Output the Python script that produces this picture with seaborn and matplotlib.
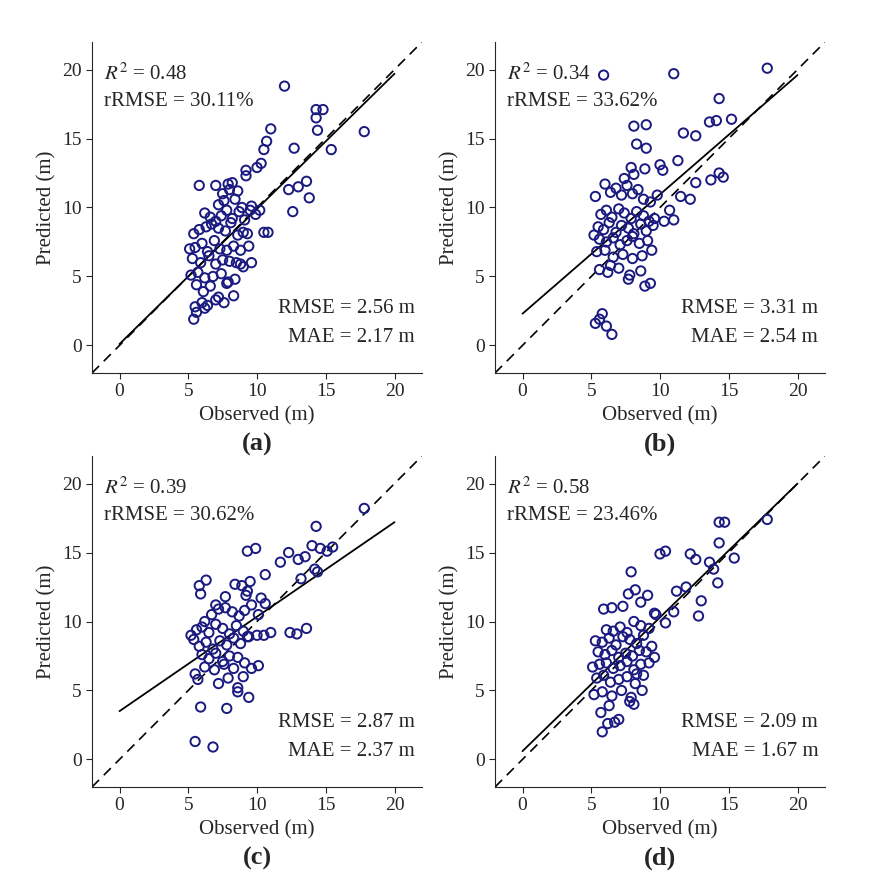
import numpy as np
import pandas as pd
import seaborn as sns
import matplotlib.pyplot as plt

# panel (a)
obs_a = [12.0, 14.3, 14.8, 14.3, 14.4, 17.8, 11.0, 10.7, 10.5, 12.7, 15.4, 10.3, 9.2, 12.3, 13.0, 13.6,
         13.8, 12.6, 10.0, 10.2, 10.5, 10.8, 5.8, 7.0, 7.5, 7.9, 8.0, 8.2, 8.6, 9.2, 7.2, 7.6, 8.4,
         8.9, 9.6, 9.9, 6.2, 6.6, 7.0, 7.4, 7.8, 8.2, 8.7, 9.1, 9.5, 5.4, 5.8, 6.3, 6.7, 7.2, 7.7,
         8.1, 8.6, 9.0, 9.4, 5.1, 5.5, 6.0, 6.4, 6.9, 7.3, 7.8, 8.3, 8.8, 5.3, 5.9, 6.5, 7.0,
         7.5, 8.0, 8.5, 5.2, 5.7, 6.2, 6.8, 7.4, 7.9, 8.4, 9.0, 5.6, 6.1, 6.6, 7.2, 7.8, 5.5,
         6.0, 6.4, 7.0, 7.6, 8.3, 5.6, 6.2, 5.4, 9.3, 9.6, 8.8]
pred_a = [18.8, 17.1, 17.1, 16.5, 15.6, 15.5, 15.7, 14.8, 14.2, 14.3, 14.2, 13.2, 12.7, 11.3, 11.5, 11.9,
          10.7, 9.7, 12.9, 9.8, 8.2, 8.2, 11.6, 11.6, 11.0, 11.7, 11.3, 11.8, 11.2, 12.3, 10.2, 10.5, 10.6,
          10.0, 10.1, 9.5, 9.6, 9.3, 9.0, 9.4, 9.8, 9.2, 9.7, 9.1, 9.8, 8.1, 8.4, 8.6, 8.8, 8.5, 8.3,
          8.9, 8.0, 8.2, 7.2, 7.0, 7.1, 7.4, 6.8, 7.6, 7.0, 6.9, 7.2, 6.9, 6.3, 6.0, 6.5, 5.9,
          6.2, 6.1, 6.0, 5.1, 5.3, 4.9, 5.0, 5.2, 4.6, 4.8, 5.7, 4.4, 3.9, 4.3, 3.5, 4.5, 2.8,
          3.1, 2.9, 3.3, 3.1, 3.6, 2.4, 2.7, 1.9, 8.1, 6.0, 5.9]

# panel (b)
obs_b = [5.9, 11.0, 17.8, 14.3, 13.6, 14.1, 15.2, 12.6, 11.7, 8.1, 9.0, 9.0, 8.3, 7.4, 10.0, 11.3,
         8.9, 7.9, 8.1, 10.2, 14.3, 13.7, 14.6, 12.6, 12.2, 11.5, 10.7, 5.3, 6.0, 6.4, 6.8, 7.2, 7.6,
         8.0, 8.4, 8.8, 9.3, 9.8, 5.7, 6.1, 6.5, 7.0, 7.4, 7.9, 8.3, 8.8, 9.2, 5.5, 5.9, 6.3, 6.8,
         7.2, 7.7, 8.1, 8.6, 9.0, 9.5, 5.2, 5.6, 6.1, 6.6, 7.1, 7.6, 8.0, 8.5, 9.1, 5.4, 6.0,
         6.6, 7.3, 8.0, 8.7, 9.4, 5.6, 6.2, 7.0, 7.8, 8.6, 9.3, 6.4, 7.7, 8.9, 5.8, 5.3, 6.1,
         5.6, 6.5, 9.6, 10.3, 11.0]
pred_b = [19.6, 19.7, 20.1, 17.9, 16.2, 16.3, 16.4, 15.2, 15.4, 15.9, 16.0, 14.3, 14.6, 12.1, 13.1, 13.4,
          12.8, 12.9, 12.4, 12.7, 12.5, 12.0, 12.2, 11.8, 10.6, 10.8, 9.8, 10.8, 11.7, 11.1, 11.4, 10.9, 11.6,
          11.0, 11.3, 10.6, 10.4, 10.9, 9.5, 9.8, 9.3, 9.9, 9.6, 9.2, 9.7, 9.4, 9.0, 8.6, 8.4, 8.9, 8.2,
          8.7, 8.5, 8.1, 8.8, 8.3, 8.7, 8.0, 7.7, 7.5, 7.8, 7.3, 7.6, 7.9, 7.4, 7.6, 6.8, 6.9,
          6.4, 6.6, 6.3, 6.5, 6.9, 5.5, 5.3, 5.6, 5.1, 5.4, 4.5, 5.8, 4.8, 4.3, 2.3, 1.6, 1.4,
          1.9, 0.8, 9.2, 9.0, 9.1]

# panel (c)
obs_c = [17.8, 14.3, 14.0, 14.6, 14.2, 15.1, 15.5, 12.3, 9.3, 9.9, 13.0, 13.5, 11.7, 10.6, 14.4, 13.2,
         12.9, 13.6, 5.8, 6.3, 8.9, 9.3, 9.5, 5.9, 7.0, 7.7, 8.4, 9.2, 10.3, 10.6, 6.2, 6.7, 7.2,
         7.7, 8.2, 8.7, 9.1, 9.6, 10.1, 5.2, 5.6, 6.0, 6.5, 7.0, 7.5, 8.0, 8.5, 9.0, 9.4, 10.0,
         5.4, 5.8, 6.3, 6.8, 7.3, 7.8, 8.3, 8.8, 9.3, 6.0, 6.5, 7.0, 7.5, 8.0, 8.6, 9.1, 5.5,
         6.2, 6.9, 7.6, 8.3, 9.0, 9.6, 7.2, 7.9, 8.6, 9.4, 10.1, 5.7, 7.8, 8.6, 5.9, 5.5, 6.8,
         10.5, 11.0, 12.4]
pred_c = [18.2, 16.9, 15.5, 15.3, 13.8, 15.1, 15.4, 15.0, 15.1, 15.3, 14.5, 14.7, 14.3, 13.4, 13.6, 13.1,
          9.1, 9.5, 12.6, 13.0, 12.6, 12.2, 12.9, 12.0, 11.2, 11.8, 12.7, 11.9, 11.7, 11.3, 10.0, 10.5, 10.9,
          11.0, 10.7, 10.4, 10.8, 11.2, 10.5, 9.0, 9.4, 9.6, 9.2, 9.8, 9.5, 9.1, 9.7, 9.3, 8.9, 9.0,
          8.7, 8.2, 8.5, 8.0, 8.6, 8.3, 8.8, 8.4, 8.9, 7.6, 7.3, 7.7, 7.1, 7.5, 7.4, 7.0, 6.2,
          6.7, 6.5, 6.9, 6.6, 6.0, 6.6, 5.5, 5.9, 5.2, 4.5, 6.8, 5.8, 3.7, 4.9, 3.8, 1.3, 0.9,
          9.0, 9.2, 9.2]

# panel (d)
obs_d = [14.3, 14.7, 17.8, 14.3, 15.4, 12.2, 12.6, 10.0, 10.4, 13.6, 13.9, 14.2, 11.2, 11.9, 13.0, 12.8,
         7.9, 8.2, 5.9, 6.5, 7.3, 7.7, 8.6, 9.1, 9.7, 6.1, 6.6, 7.1, 7.6, 8.1, 8.6, 9.2, 5.3, 5.8,
         6.3, 6.8, 7.3, 7.8, 8.3, 8.8, 9.4, 5.5, 6.0, 6.5, 7.0, 7.5, 8.0, 8.5, 9.0, 9.6, 5.1, 5.6,
         6.1, 6.6, 7.1, 7.6, 8.1, 8.6, 9.2, 5.4, 5.9, 6.4, 7.0, 7.6, 8.2, 8.8, 5.2, 5.8, 6.5,
         7.2, 7.9, 8.7, 5.7, 6.3, 7.0, 7.8, 5.8, 6.2, 6.7, 8.1, 8.3, 11.0, 10.4, 9.6]
pred_d = [17.2, 17.2, 17.4, 15.7, 14.6, 14.9, 14.5, 14.9, 15.1, 14.3, 13.8, 12.8, 12.2, 12.5, 11.5, 10.4,
          13.6, 12.3, 10.9, 11.0, 11.1, 12.0, 11.4, 11.9, 10.5, 9.4, 9.3, 9.6, 9.2, 10.0, 9.7, 9.5, 8.6, 8.5,
          8.8, 8.3, 8.9, 8.7, 8.4, 9.0, 8.2, 7.8, 7.6, 7.9, 7.4, 7.7, 7.5, 7.9, 7.8, 7.4, 6.7, 6.9,
          7.0, 6.6, 6.8, 7.1, 6.5, 6.9, 7.0, 5.9, 6.1, 5.6, 5.8, 6.0, 5.5, 6.1, 4.7, 4.9, 4.6,
          5.0, 4.5, 5.0, 3.4, 3.9, 2.9, 4.2, 2.0, 2.6, 2.7, 4.0, 6.2, 10.7, 9.9, 10.6]

# fitted lines (intercept, slope) and stats
fits = [(0.1, 0.98), (2.3, 0.865), (3.5, 0.685), (0.6, 0.97)]
r2 = ["0.48", "0.34", "0.39", "0.58"]
rrmse = ["30.11%", "33.62%", "30.62%", "23.46%"]
rmse = ["2.56", "3.31", "2.87", "2.09"]
mae = ["2.17", "2.54", "2.37", "1.67"]
labels = ["(a)", "(b)", "(c)", "(d)"]

data = [(obs_a, pred_a), (obs_b, pred_b), (obs_c, pred_c), (obs_d, pred_d)]

sns.set_style("ticks")
plt.rcParams['font.family'] = ['Liberation Serif', 'DejaVu Serif']
plt.rcParams['mathtext.fontset'] = 'stix'

fig = plt.figure(figsize=(8.74, 8.75), dpi=100)
lefts = [92 / 874, 495 / 874]
bottoms = [1 - 373 / 875, 1 - 787 / 875]
w, h = 330 / 874, 331 / 875

for i, (obs, pred) in enumerate(data):
    ax = fig.add_axes([lefts[i % 2], bottoms[i // 2], w, h])
    df = pd.DataFrame({"obs": obs, "pred": pred})
    ax.plot([-2, 22], [-2, 22], ls=(0, (6, 4)), color="black", lw=1.2)
    b0, b1 = fits[i]
    xs = np.array([0, 20])
    ax.plot(xs, b0 + b1 * xs, color="black", lw=1.3)
    sns.scatterplot(data=df, x="obs", y="pred", ax=ax, facecolor="none",
                    edgecolor="#1a1a80", linewidth=1.4, s=45, zorder=3)
    ax.set_xlim(-2, 22)
    ax.set_ylim(-2, 22)
    ax.set_xticks([0, 5, 10, 15, 20])
    ax.set_yticks([0, 5, 10, 15, 20])
    ax.tick_params(labelsize=14, direction="out", length=4)
    ax.set_xlabel("Observed (m)", fontsize=15)
    ax.set_ylabel("Predicted (m)", fontsize=15)
    sns.despine(ax=ax)
    ax.text(-1.1, 19.7, r"$R^2$ = " + r2[i], fontsize=15, va="center")
    ax.text(-1.1, 17.7, "rRMSE = " + rrmse[i], fontsize=15, va="center")
    ax.text(21.5, 2.7, "RMSE = " + rmse[i] + " m", fontsize=15, va="center", ha="right")
    ax.text(21.5, 0.6, "MAE = " + mae[i] + " m", fontsize=15, va="center", ha="right")
    ax.text(0.5, -0.235, labels[i], transform=ax.transAxes, fontsize=19,
            fontweight="bold", ha="center")

plt.savefig("out.png", dpi=100)
